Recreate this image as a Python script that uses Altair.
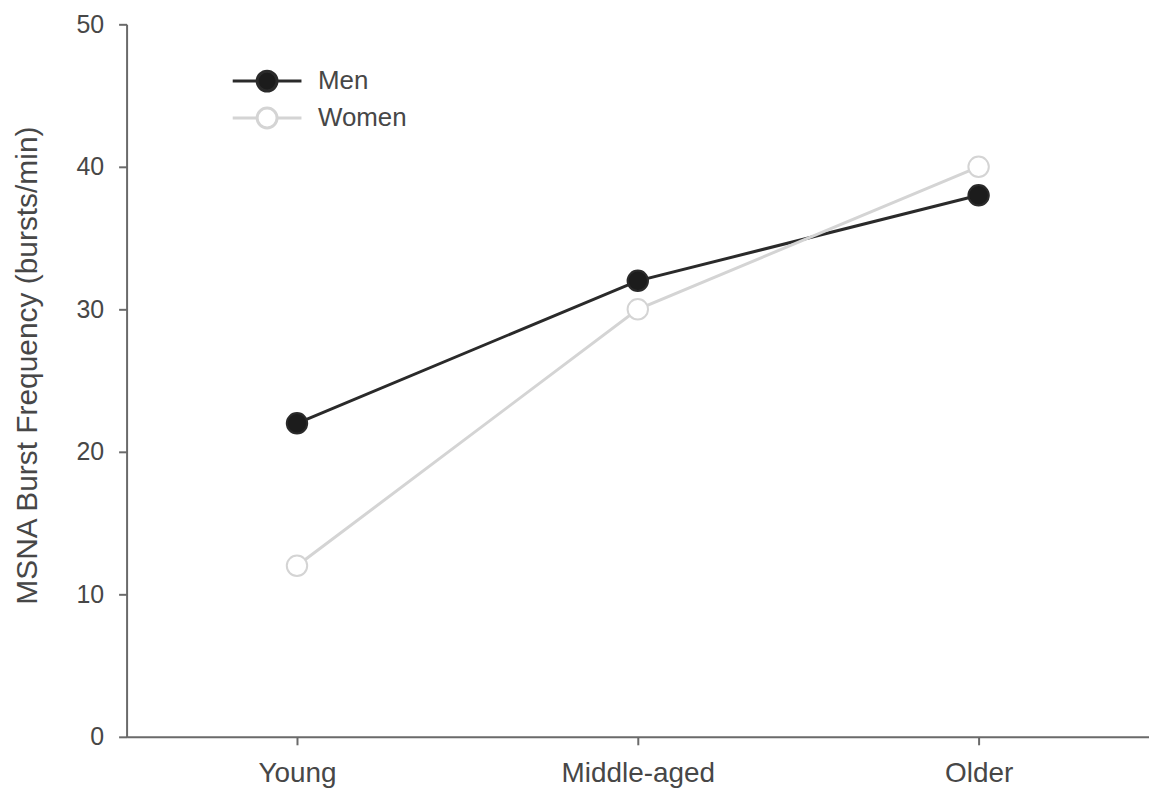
import altair as alt
import pandas as pd

groups = ["Young", "Middle-aged", "Older"]
series = ["Men", "Women"]
men_values = [22, 32, 38]
women_values = [12, 30, 40]
y_ticks = [0, 10, 20, 30, 40, 50]

rows = []
for g, v in zip(groups, men_values):
    rows.append({"group": g, "sex": "Men", "value": v})
for g, v in zip(groups, women_values):
    rows.append({"group": g, "sex": "Women", "value": v})
df = pd.DataFrame(rows)

FONT = "Liberation Sans"
AXIS_COL = "#6a6a6a"
TXT_COL = "#474747"

legend_symbol = "M-3.45,0H-1M1,0H3.45M1,0A1,1 0 1,1 -1,0A1,1 0 1,1 1,0Z"
leg = alt.Legend(
    title=None,
    orient="none",
    legendX=128,
    legendY=44,
    symbolType=legend_symbol,
    symbolSize=400,
    symbolStrokeWidth=3,
    labelFontSize=26,
    labelFont=FONT,
    labelColor=TXT_COL,
    labelOffset=38,
    rowPadding=5,
    padding=0,
)

x_enc = alt.X(
    "group:N",
    sort=groups,
    scale=alt.Scale(type="point", padding=0.5),
    axis=alt.Axis(
        title=None,
        labelAngle=0,
        labelFontSize=28,
        labelFont=FONT,
        labelColor=TXT_COL,
        labelPadding=15,
        tickSize=8,
        tickWidth=2,
        tickColor=AXIS_COL,
        domainColor=AXIS_COL,
        domainWidth=2,
        grid=False,
    ),
)
y_enc = alt.Y(
    "value:Q",
    scale=alt.Scale(domain=[0, 50], nice=False, zero=True),
    axis=alt.Axis(
        title="MSNA Burst Frequency (bursts/min)",
        values=y_ticks,
        labelFontSize=25,
        labelFont=FONT,
        labelColor=TXT_COL,
        labelPadding=15,
        tickSize=8,
        tickWidth=2,
        tickColor=AXIS_COL,
        domainColor=AXIS_COL,
        domainWidth=2,
        grid=False,
        titleFont=FONT,
        titleFontSize=30,
        titleFontWeight="normal",
        titleColor=TXT_COL,
        titleAngle=270,
        titleAlign="center",
        titleBaseline="middle",
        titleX=-99,
        titleY=342,
    ),
)

stroke_scale = alt.Scale(domain=series, range=["#2a2a2a", "#d4d4d4"])
fill_scale = alt.Scale(domain=series, range=["#1c1c1c", "#ffffff"])

lines = alt.Chart(df).mark_line(strokeWidth=3).encode(
    x=x_enc,
    y=y_enc,
    stroke=alt.Stroke("sex:N", scale=stroke_scale, legend=leg),
)
points = alt.Chart(df).mark_point(
    shape="circle", filled=True, opacity=1, size=420, strokeWidth=2
).encode(
    x=x_enc,
    y=y_enc,
    stroke=alt.Stroke("sex:N", scale=stroke_scale, legend=leg),
    fill=alt.Fill("sex:N", scale=fill_scale, legend=leg),
)

chart = (
    alt.layer(lines, points)
    .properties(
        width=1026,
        height=715,
        background="white",
        autosize=alt.AutoSizeParams(type="none"),
        padding={"left": 119, "top": 15, "right": 0, "bottom": 54},
    )
    .configure_view(stroke=None, strokeWidth=0)
)

chart.save("out.html", embed_options={"renderer": "svg", "actions": False})
